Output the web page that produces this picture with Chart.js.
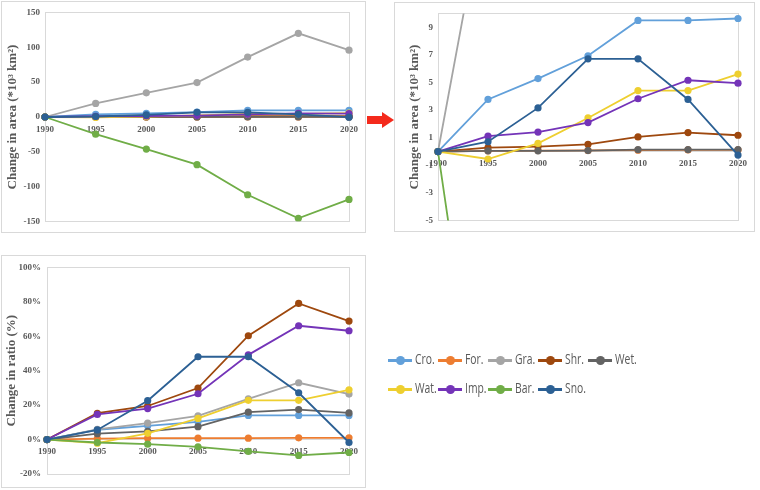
<!DOCTYPE html>
<html lang="en">
<head>
<meta charset="UTF-8" />
<title>Land cover change</title>
<script src="https://cdn.jsdelivr.net/npm/chart.js@4.4.1/dist/chart.umd.min.js"></script>
<style>
	body { margin:0; background:#fff; width:760px; height:490px; position:relative; overflow:hidden; }
	.panel { position:absolute; border:1px solid #d9d9d9; box-sizing:border-box; }
	.panel canvas { position:absolute; left:0; top:0; }
	.leg { position:absolute; height:16px; font-family:"Open Sans", sans-serif; font-size:14px; color:#595959; }
	.leg .ln { position:absolute; left:0; top:7px; width:24px; height:3px; }
	.leg .dot { position:absolute; left:8px; top:4px; width:9px; height:9px; border-radius:50%; }
	.leg .tx { position:absolute; left:27px; top:-3px; white-space:nowrap; transform:scaleX(0.74); transform-origin:left center; }
</style>
</head>
<body>
	<div class="panel" style="left:1px; top:1px; width:365px; height:232px;">
		<canvas id="areaChart" width="363" height="230"></canvas>
	</div>
	<div class="panel" style="left:394px; top:2px; width:361px; height:230px;">
		<canvas id="zoomChart" width="359" height="228"></canvas>
	</div>
	<div class="panel" style="left:1px; top:255px; width:365px; height:233px;">
		<canvas id="ratioChart" width="363" height="231"></canvas>
	</div>
	<svg style="position:absolute; left:0; top:0;" width="760" height="490">
		<polygon points="367,116 382,116 382,112 394,120 382,128 382,124 367,124" fill="#f42a1c" />
	</svg>
	<div id="legend"></div>

<script>
const years = ['1990', '1995', '2000', '2005', '2010', '2015', '2020'];
const names = ['Cro.', 'For.', 'Gra.', 'Shr.', 'Wet.', 'Wat.', 'Imp.', 'Bar.', 'Sno.'];
const colors = ['#62a0da', '#ed7d31', '#a5a5a5', '#9e480e', '#636363', '#eecf30', '#7434b8', '#70ad47', '#2c6094'];

// change in area (*10^3 km2)
const areaCro = [0, 3.77, 5.28, 6.93, 9.49, 9.49, 9.63];
const areaFor = [0, 0.05, 0.07, 0.08, 0.10, 0.12, 0.12];
const areaGra = [0, 19.5, 34.6, 49.4, 85.9, 120, 95.9];
const areaShr = [0, 0.28, 0.35, 0.52, 1.06, 1.37, 1.18];
const areaWet = [0, 0.05, 0.05, 0.07, 0.14, 0.14, 0.14];
const areaWat = [0, -0.54, 0.59, 2.43, 4.41, 4.41, 5.61];
const areaImp = [0, 1.11, 1.41, 2.10, 3.82, 5.16, 4.95];
const areaBar = [0, -24.7, -46, -68.3, -111.5, -145.2, -118.2];
const areaSno = [0, 0.71, 3.16, 6.71, 6.71, 3.77, -0.26];

// change in ratio (%)
const ratioCro = [0, 5.7, 8.0, 10.3, 14.0, 14.0, 14.0];
const ratioFor = [0, 0.6, 0.8, 0.8, 0.8, 1.0, 1.0];
const ratioGra = [0, 5.9, 9.6, 13.8, 23.6, 33.0, 26.4];
const ratioShr = [0, 15.3, 19.5, 29.9, 60.3, 79.1, 68.8];
const ratioWet = [0, 3.4, 4.8, 7.5, 15.9, 17.4, 15.5];
const ratioWat = [0, -2.1, 3.6, 12.3, 22.8, 22.8, 28.9];
const ratioImp = [0, 14.6, 18.0, 26.6, 49.2, 66.1, 63.2];
const ratioBar = [0, -1.7, -2.7, -4.2, -6.9, -9.2, -7.5];
const ratioSno = [0, 5.6, 22.6, 48.1, 48.1, 27.2, -1.7];

const areaTicks = [-150, -100, -50, 0, 50, 100, 150];
const zoomTicks = [-5, -3, -1, 1, 3, 5, 7, 9];
const ratioTicks = [-20, 0, 20, 40, 60, 80, 100];

const areaSeries = [areaCro, areaFor, areaGra, areaShr, areaWet, areaWat, areaImp, areaBar, areaSno];
const ratioSeries = [ratioCro, ratioFor, ratioGra, ratioShr, ratioWet, ratioWat, ratioImp, ratioBar, ratioSno];

const tickFont = { family: '"Liberation Serif", serif', size: 9, weight: 'bold' };
const titleFont = { family: '"Liberation Serif", serif', size: 13, weight: 'bold' };

// light grey frame round the plot area
const plotFrame = {
	id: 'plotFrame',
	beforeDatasetsDraw(chart) {
		const a = chart.chartArea, c = chart.ctx;
		c.save();
		c.strokeStyle = '#d9d9d9';
		c.lineWidth = 1;
		c.strokeRect(Math.round(a.left) + 0.5, Math.round(a.top) + 0.5, Math.round(a.right - a.left), Math.round(a.bottom - a.top));
		c.restore();
	}
};

function makeChart(id, series, o) {
	const datasets = series.map((vals, i) => ({
		label: names[i],
		data: vals,
		borderColor: colors[i],
		backgroundColor: colors[i],
		pointBackgroundColor: colors[i],
		pointBorderWidth: 0,
		pointRadius: 3.6,
		borderWidth: 1.8,
		order: names.length - i
	}));
	return new Chart(document.getElementById(id), {
		type: 'line',
		data: { labels: years, datasets: datasets },
		plugins: [plotFrame],
		options: {
			responsive: false,
			animation: false,
			layout: { padding: o.pad },
			plugins: { legend: { display: false }, tooltip: { enabled: false } },
			scales: {
				x: {
					position: { y: 0 },
					offset: false,
					grid: { display: false, drawTicks: false },
					border: { display: true, color: '#d9d9d9' },
					ticks: { font: tickFont, color: '#595959', padding: 7, maxRotation: 0, autoSkip: false }
				},
				y: {
					min: o.min, max: o.max,
					grid: { display: false, drawTicks: false },
					border: { display: true, color: '#d0d0d0' },
					afterBuildTicks: s => { s.ticks = o.ticks.map(v => ({ value: v })); },
					afterFit: s => { s.width = o.yWidth; },
					ticks: { font: tickFont, color: '#595959', padding: o.tickPad, callback: o.fmt || (v => v) },
					title: { display: true, text: o.title, font: titleFont, color: '#595959', padding: { top: o.titlePad, bottom: 0 } }
				}
			}
		}
	});
}

makeChart('areaChart', areaSeries, {
	min: -150, max: 150, ticks: areaTicks, yWidth: 43, tickPad: 5, titlePad: 3,
	title: 'Change in area (*10³ km²)',
	pad: { left: 0, top: 9, right: 11, bottom: 10 }
});
makeChart('zoomChart', areaSeries, {
	min: -5, max: 10, ticks: zoomTicks, yWidth: 43, tickPad: 5, titlePad: 12,
	title: 'Change in area (*10³ km²)',
	pad: { left: 0, top: 7, right: 9, bottom: 9 }
});
makeChart('ratioChart', ratioSeries, {
	min: -20, max: 100, ticks: ratioTicks, yWidth: 45, tickPad: 6, titlePad: 2,
	title: 'Change in ratio (%)', fmt: v => v + '%',
	pad: { left: 0, top: 10, right: 10, bottom: 13 }
});

// legend, two rows
const legend = document.getElementById('legend');
names.forEach((n, i) => {
	const row = i < 5 ? 0 : 1, col = i < 5 ? i : i - 5;
	const el = document.createElement('div');
	el.className = 'leg';
	el.style.left = (388 + col * 50) + 'px';
	el.style.top = (352 + row * 29) + 'px';
	el.innerHTML = '<div class="ln" style="background:' + colors[i] + '"></div>' +
		'<div class="dot" style="background:' + colors[i] + '"></div>' +
		'<span class="tx">' + n + '</span>';
	legend.appendChild(el);
});
</script>
</body>
</html>
